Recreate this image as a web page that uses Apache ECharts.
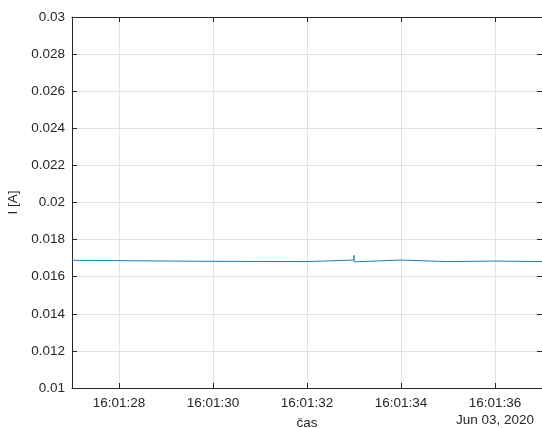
<!DOCTYPE html>
<html>
<head>
<meta charset="utf-8">
<script src="https://cdn.jsdelivr.net/npm/echarts@6/dist/echarts.min.js"></script>
<style>
html,body{margin:0;padding:0;background:#fff;}
#chart{width:542px;height:428px;}
</style>
</head>
<body>
<div id="chart"></div>
<script>
// time in seconds after 16:01:00 on Jun 03, 2020
const timeSec = [27.0, 28.0, 29.0, 29.0, 30.0, 31.0, 31.0, 32.0, 33.0, 33.0, 33.0, 34.0, 35.0, 35.0, 36.0, 37.0];
// current I [A]
const currentA = [0.016882, 0.016865, 0.016844, 0.016858, 0.016828, 0.016822, 0.016800, 0.016811, 0.016898, 0.01715, 0.016800, 0.016898, 0.016811, 0.016822, 0.016844, 0.016811];
const xTickSec = [28, 30, 32, 34, 36];
const xTickLabels = ['16:01:28', '16:01:30', '16:01:32', '16:01:34', '16:01:36\nJun 03, 2020'];
const yTicks = {min: 0.01, max: 0.03, step: 0.002};
const xRange = {min: 27.0, max: 37.0};
const xTitle = 'čas';
const yTitle = 'I [A]';

const seriesData = timeSec.map((t, i) => [t, currentA[i]]);

const textColor = '#262626';
const gridColor = '#e3e3e3';
const font = 'Liberation Sans, Arial, sans-serif';
const fs = 13.5;

const chart = echarts.init(document.getElementById('chart'), null, {renderer: 'canvas'});
chart.setOption({
  animation: false,
  backgroundColor: '#ffffff',
  grid: {left: 72, top: 17, right: 0, bottom: 40, show: false, containLabel: false, outerBoundsMode: 'none'},
  xAxis: [{
    type: 'value',
    min: xRange.min, max: xRange.max,
    name: xTitle, nameLocation: 'middle', nameGap: 28, nameMoveOverlap: false,
    nameTextStyle: {color: textColor, fontSize: fs, fontFamily: font, verticalAlign: 'top'},
    axisLine: {show: true, onZero: false, lineStyle: {color: textColor, width: 1}},
    axisTick: {show: true, inside: true, length: 5, customValues: xTickSec, lineStyle: {color: textColor}},
    axisLabel: {
      color: textColor, fontSize: fs, fontFamily: font, margin: 7, lineHeight: 17,
      customValues: xTickSec,
      formatter: v => xTickLabels[xTickSec.indexOf(Math.round(v))] || ''
    },
    splitLine: {show: true, lineStyle: {color: gridColor, width: 1}}
  }, {
    type: 'value', position: 'top',
    min: xRange.min, max: xRange.max,
    axisLine: {show: true, onZero: false, lineStyle: {color: textColor, width: 1}},
    axisTick: {show: true, inside: true, length: 5, customValues: xTickSec, lineStyle: {color: textColor}},
    axisLabel: {show: false, customValues: xTickSec},
    splitLine: {show: false}
  }],
  yAxis: [{
    type: 'value',
    min: yTicks.min, max: yTicks.max, interval: yTicks.step,
    name: yTitle, nameLocation: 'middle', nameGap: 52, nameRotate: 90,
    nameTextStyle: {color: textColor, fontSize: fs, fontFamily: font},
    axisLine: {show: true, onZero: false, lineStyle: {color: textColor, width: 1}},
    axisTick: {show: true, inside: true, length: 5, lineStyle: {color: textColor}},
    axisLabel: {color: textColor, fontSize: fs, fontFamily: font, margin: 7,
      formatter: v => String(+v.toFixed(3))},
    splitLine: {show: true, lineStyle: {color: gridColor, width: 1}}
  }, {
    type: 'value', position: 'right',
    min: yTicks.min, max: yTicks.max, interval: yTicks.step,
    axisLine: {show: true, onZero: false, lineStyle: {color: textColor, width: 1}},
    axisTick: {show: true, inside: true, length: 5, lineStyle: {color: textColor}},
    axisLabel: {show: false},
    splitLine: {show: false}
  }],
  series: [{
    type: 'line',
    xAxisIndex: 0, yAxisIndex: 0,
    data: seriesData,
    showSymbol: false,
    symbol: 'none',
    lineStyle: {color: '#1f7fb5', width: 1},
    z: 5
  }]
});
</script>
</body>
</html>
